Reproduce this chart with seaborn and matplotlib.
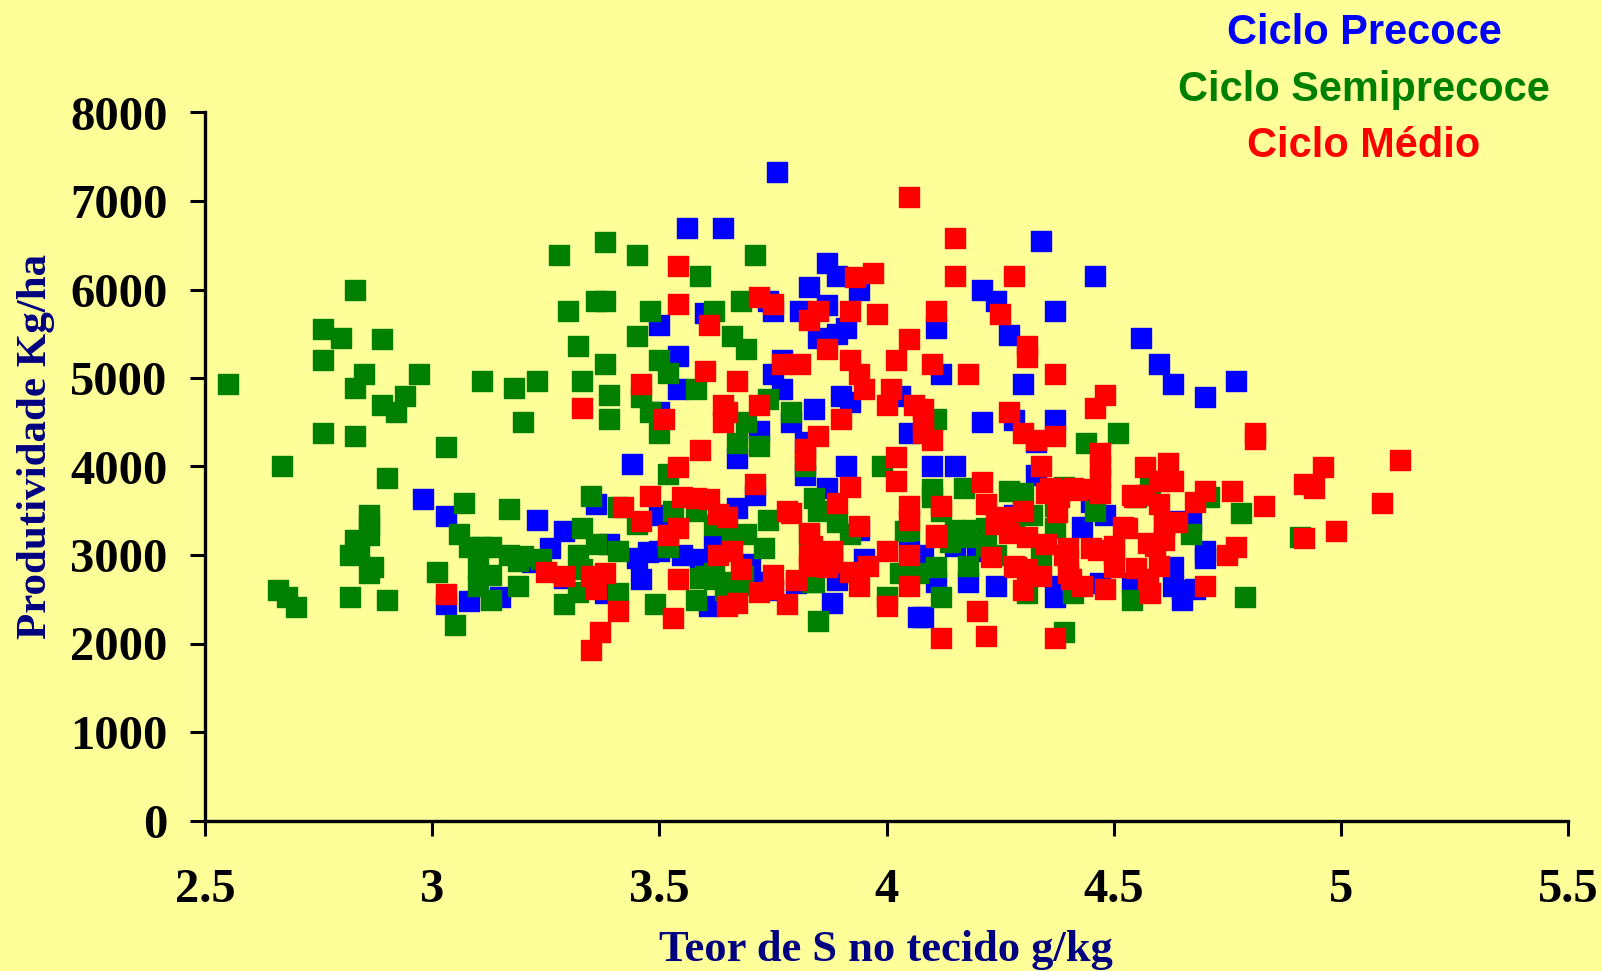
# Produtividade vs teor de S, three maturity cycles
import matplotlib
matplotlib.use("Agg")
import matplotlib.pyplot as plt
import seaborn as sns

# Values
precoce_s = [3.76,3.56,3.64,4.34,4.46,3.87,3.89,3.94,3.83,4.21,4.24,3.74,3.75,3.81,3.87,3.60,4.37,4.11,3.50,3.89,
             3.85,3.91,4.27,4.56,4.60,3.54,3.77,3.75,4.12,4.30,4.63,4.77,4.70,3.54,3.77,3.90,4.03,3.92,3.84,3.50,
             4.21,4.28,4.37,3.79,3.72,4.05,3.82,4.33,3.67,3.44,3.91,4.10,4.15,3.82,4.33,3.87,3.71,2.98,3.36,3.67,
             4.45,3.03,3.23,3.50,4.48,3.29,3.94,4.43,3.26,3.39,3.55,3.45,3.50,3.59,3.62,4.70,4.70,4.63,4.15,4.05,
             3.95,3.22,3.29,3.46,3.72,3.80,3.89,4.11,4.18,4.24,4.47,4.54,4.63,4.65,4.68,3.03,3.08,3.15,3.38,3.75,
             3.88,4.07,4.08,4.37,4.65,4.38,3.61,4.64,4.28,4.08,4.20,3.475,4.67,3.68,3.70]
precoce_kg = [7330,6700,6700,6550,6150,6300,6150,6000,6030,6000,5870,5870,5760,5760,5830,5730,5760,5560,5600,5500,
              5450,5560,5490,5450,5160,5250,5200,5050,5050,4930,4930,4970,4780,4880,4880,4800,4800,4730,4650,4620,
              4500,4530,4530,4500,4400,4380,4280,4280,4100,4030,4000,4000,4000,3900,3900,3760,3680,3630,3580,3530,
              3600,3440,3400,3450,3450,3270,3280,3320,3080,3120,3000,2970,3050,2960,3100,3050,2970,2870,3100,3050,
              2950,2920,2740,2730,2700,2680,2720,2700,2700,2650,2680,2680,2650,2600,2620,2450,2480,2520,2570,2600,
              2460,2300,2300,2530,2490,2650,2420,3380,3450,3000,3050,3030,3370,2700,2900]

semi_s = [2.55,2.83,2.76,2.80,2.89,2.76,2.85,2.83,2.97,2.94,2.89,2.92,2.76,2.83,3.03,2.67,2.90,3.11,3.18,3.23,
          3.20,3.28,3.38,3.45,3.59,3.71,3.36,3.38,3.30,3.48,3.62,3.68,3.32,3.45,3.66,3.69,3.38,3.50,3.52,3.33,
          3.58,3.39,3.46,3.74,3.39,3.48,3.79,3.50,3.69,4.11,4.44,4.51,3.67,3.72,3.82,3.99,3.52,4.10,4.17,3.35,
          3.58,3.07,3.17,2.86,2.86,2.86,2.83,2.82,2.84,2.87,2.86,2.82,2.90,2.66,2.68,2.70,3.01,3.05,3.06,3.08,
          3.11,3.13,3.17,3.20,3.19,3.24,3.10,3.13,3.10,3.13,3.19,3.29,3.32,3.33,3.32,3.36,3.41,3.41,3.45,3.49,
          3.52,3.53,3.58,3.59,3.62,3.62,3.65,3.68,3.69,3.73,3.74,3.83,3.84,3.84,3.85,3.85,3.89,3.92,4.00,4.03,
          4.05,4.07,4.10,4.11,4.12,4.15,4.18,4.18,4.20,4.22,4.24,4.27,4.30,4.31,4.32,4.34,4.37,4.39,4.39,4.41,
          4.46,4.50,4.54,4.55,4.58,4.67,4.71,4.79,4.78,4.91,4.37,4.28,4.12,4.16,4.22,4.14,4.19,
          3.41,3.33,3.66,3.62,3.685,3.645,3.60,4.04,3.835]
semi_kg = [4930,6000,5550,5450,5440,5200,5050,4890,5050,4800,4700,4620,4380,4340,4220,4000,3870,4970,4890,4970,
           4500,6390,6540,6390,6150,6390,5870,5870,5760,5760,5760,5870,5360,5480,5480,5330,5160,5200,5060,4970,
           4880,4810,4780,4760,4540,4620,4620,4380,4500,4540,4270,4380,4270,4230,4000,4000,3920,3750,3760,3670,
           3500,3590,3520,3450,3350,3230,3170,3000,3020,2870,2800,2530,2490,2610,2530,2410,2810,2210,3240,3090,
           3090,3090,3000,2990,2930,2960,2850,2770,2650,2490,2650,2450,2580,3300,3000,3120,3040,2570,3350,2450,
           3090,3500,2490,2740,3340,2800,2700,2660,3240,3080,3400,3240,2700,3640,3500,2250,3370,3240,2530,2800,
           3280,2800,3650,2870,2530,3280,3200,2880,3240,3100,3000,3720,3700,2570,3450,3000,3550,3770,2130,2570,
           3500,3000,2490,3650,3800,3240,3650,2530,3480,3200,3300,3300,3500,3250,3300,3150,3280,
           3540,2840,3230,2725,2760,2610,2760,3270,2690]

medio_s = [4.05,4.15,3.54,3.93,3.97,4.15,4.28,3.54,3.72,3.75,3.83,3.85,3.92,3.98,4.11,4.25,3.61,3.87,3.92,4.02,
           4.05,4.10,4.31,4.31,3.60,3.77,3.81,3.94,4.18,4.37,3.46,3.67,3.95,4.01,4.00,4.06,4.08,4.27,4.46,4.48,
           3.33,3.64,3.65,3.72,3.51,3.64,3.90,4.08,4.08,4.10,4.30,4.33,4.37,4.81,4.81,3.85,3.59,3.82,4.02,3.82,
           4.47,4.47,3.54,4.34,4.57,4.62,4.96,5.13,4.02,4.21,4.47,4.60,4.63,3.71,3.92,4.92,4.94,3.48,3.55,3.58,
           3.61,4.36,4.41,4.35,4.47,4.54,4.57,4.70,4.76,5.09,4.83,4.68,3.42,3.89,4.05,4.12,4.22,4.60,3.63,3.65,
           3.78,3.79,4.05,4.26,3.46,3.54,3.52,3.94,4.11,4.11,4.27,4.31,4.52,4.61,4.64,4.99,4.92,4.77,4.75,3.83,
           3.83,3.88,3.66,3.63,4.00,4.05,4.23,4.35,4.40,4.45,4.50,4.59,4.61,3.25,3.29,3.35,3.38,3.36,3.54,3.68,
           3.83,3.87,3.92,3.96,4.28,4.31,4.34,4.40,4.50,4.55,4.60,3.75,3.80,3.72,3.75,3.78,3.65,3.67,3.94,4.05,
           4.30,4.43,4.48,4.58,4.70,3.03,3.41,3.53,3.37,3.35,4.00,4.20,4.12,4.22,4.37,4.39,4.44,4.38,4.30,4.24,
           3.835,3.835,3.88,3.88,3.85,4.38,4.42,4.375,4.40,4.405,4.465,4.575,4.545,4.61,4.53,4.575,4.285]
medio_kg = [7050,6580,6270,6140,6190,6150,6150,5840,5920,5840,5650,5760,5760,5720,5760,5720,5600,5330,5200,5200,
            5440,5160,5360,5240,5080,5160,5160,5050,5050,5050,4930,4970,4880,4880,4700,4700,4650,4620,4660,4810,
            4660,4700,4620,4700,4540,4500,4540,4500,4380,4300,4380,4300,4340,4380,4310,4340,4190,4200,4110,4070,
            4150,4000,3990,4000,3990,4040,3990,4070,3840,3830,3880,3840,3840,3800,3770,3800,3760,3670,3660,3640,
            3630,3760,3760,3700,3700,3680,3680,3720,3720,3590,3550,3600,3540,3590,3550,3550,3580,3580,3460,3430,
            3500,3480,3400,3430,3380,3300,3230,3330,3230,3200,3250,3200,3320,3360,3370,3270,3190,3090,3000,3250,
            3000,3050,3050,3000,3050,3000,2980,3120,3080,3080,3100,3100,3170,2810,2760,2760,2800,2620,2730,2840,
            2880,2870,2810,2880,2880,2840,2760,2800,2870,2850,2880,2770,2720,2580,2620,2450,2420,2460,2650,2650,
            2610,2650,2620,2570,2650,2560,2370,2290,2130,1930,2420,2370,2060,2090,2060,3000,3750,3650,3500,3350,
            3100,2950,2920,3030,2950,3740,3740,3490,2950,2725,3060,2725,3660,3340,3310,3140,2870]

x_ticks = [2.5, 3, 3.5, 4, 4.5, 5, 5.5]
y_ticks = [0, 1000, 2000, 3000, 4000, 5000, 6000, 7000, 8000]
x_labels = ["2.5", "3", "3.5", "4", "4.5", "5", "5.5"]

sns.set_style("white")
fig = plt.figure(figsize=(16.02, 9.71), dpi=100, facecolor="#FFFF99")
ax = fig.add_axes([205 / 1602, 1 - 820.5 / 971, (1568 - 205) / 1602, (820.5 - 112.5) / 971])
ax.set_facecolor("#FFFF99")

# Drawn in this order, red ends up on top
series = [(precoce_s, precoce_kg, "#0000FF"), (semi_s, semi_kg, "#008000"), (medio_s, medio_kg, "#FF0000")]
for teor, prod, cor in series:
    sns.scatterplot(x=teor, y=prod, marker="s", s=196, color=cor, edgecolor=cor, linewidth=1.0,
                    ax=ax, clip_on=False)

ax.set_xlim(2.5, 5.5)
ax.set_ylim(0, 8000)
ax.set_xticks(x_ticks)
ax.set_xticklabels(x_labels)
ax.set_yticks(y_ticks)
sns.despine(ax=ax)
for lado in ["left", "bottom"]:
    ax.spines[lado].set_linewidth(2.4)
    ax.spines[lado].set_color("black")
ax.tick_params(axis="both", length=11, width=2.2, color="black", left=True, bottom=True)
ax.tick_params(axis="y", pad=16)
ax.tick_params(axis="x", pad=23)
for lab in ax.get_xticklabels() + ax.get_yticklabels():
    lab.set_fontfamily("Liberation Serif")
    lab.set_fontweight("bold")
    lab.set_fontsize(35)
    lab.set_color("black")

# Axis titles
fig.text(886 / 1602, 1 - 950 / 971, "Teor de S no tecido g/kg", family="Liberation Serif", weight="bold",
         fontsize=32, color="#000080", ha="center", va="center")
fig.text(36 / 1602, 1 - 446 / 971, "Produtividade Kg/ha", family="Liberation Serif", weight="bold",
         fontsize=31, color="#000080", ha="center", va="center", rotation=90)

# Legend written as plain coloured text
nomes = ["Ciclo Precoce", "Ciclo Semiprecoce", "Ciclo Médio"]
cores = ["#0000FF", "#008000", "#FF0000"]
alturas = [33, 90, 146]
for nome, cor, yy in zip(nomes, cores, alturas):
    fig.text(1364 / 1602, 1 - yy / 971, nome, family="Liberation Sans", weight="bold", fontsize=29.9,
             color=cor, ha="center", va="center")

plt.savefig("out.png", dpi=100, facecolor=fig.get_facecolor())
